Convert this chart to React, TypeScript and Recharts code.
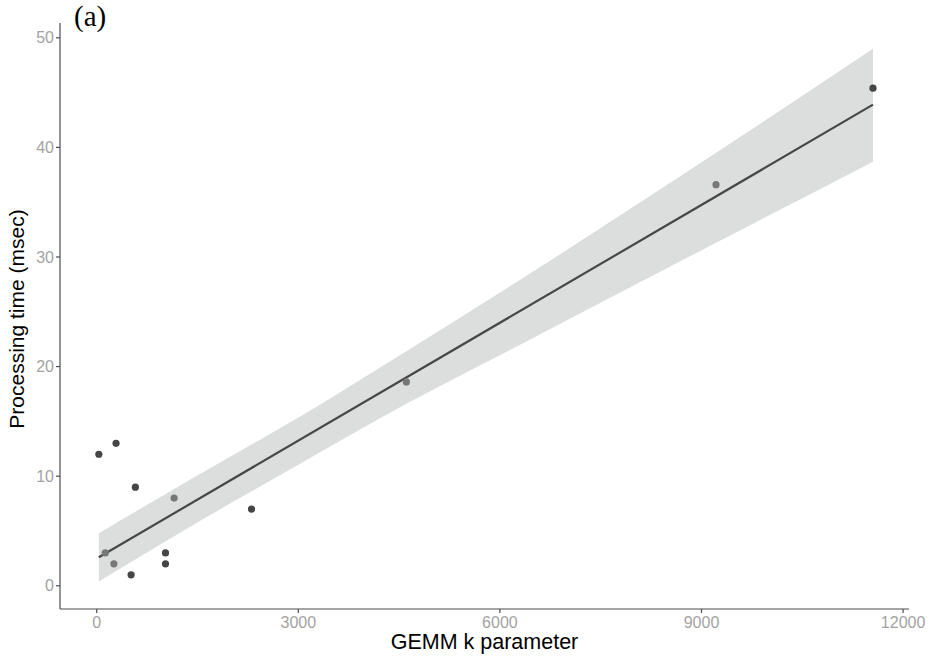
import React from 'react';
import { ComposedChart, Area, Line, Scatter, XAxis, YAxis } from 'recharts';

// observations (GEMM k, msec)
const darkX = [32, 288, 576, 2304, 512, 1024, 1024, 11552];
const darkY = [12, 13, 9, 7, 1, 3, 2, 45.4];
const lightX = [128, 256, 1152, 4608, 9216];
const lightY = [3, 2, 8, 18.6, 36.6];

// fitted line and its confidence band
const fitX = [32, 11552];
const fitY = [2.6, 43.9];
const bandX = [32, 1536, 3072, 4608, 6144, 9216, 11552];
const bandLow = [0.4, 5.9, 11.3, 16.6, 21.5, 31.3, 38.7];
const bandHigh = [4.8, 10.2, 15.6, 21.4, 27.3, 39.5, 49.0];

const xTicks = [0, 3000, 6000, 9000, 12000];
const yTicks = [0, 10, 20, 30, 40, 50];

const darkPts = darkX.map((x, i) => ({ x, y: darkY[i] }));
const lightPts = lightX.map((x, i) => ({ x, y: lightY[i] }));
const fitRows = fitX.map((x, i) => ({ x, fit: fitY[i] }));
const bandRows = bandX.map((x, i) => ({ x, band: [bandLow[i], bandHigh[i]] }));

const tickStyle = { fill: '#a3a3a3', fontSize: 16, fontFamily: 'Liberation Sans, Arial, sans-serif' };
const axisColor = '#4d4d4d';

const dot = (fill: string) => (props: any) => (
    <circle cx={props.cx} cy={props.cy} r={3.6} fill={fill} />
);

export default function App() {
    return (
        <div style={{ position: 'absolute', left: 0, top: 0, width: 936, height: 659, background: '#fff' }}>
            <div
                style={{
                    position: 'absolute',
                    left: 74,
                    top: 0,
                    lineHeight: '32px',
                    fontFamily: 'Liberation Serif, Times New Roman, serif',
                    fontSize: 29,
                    color: '#000',
                }}
            >
                (a)
            </div>
            <ComposedChart width={936} height={659} margin={{ top: 23, right: 27, bottom: 0, left: 0 }}>
                <XAxis
                    dataKey="x"
                    type="number"
                    domain={[-546, 12088]}
                    ticks={xTicks}
                    allowDataOverflow
                    height={50}
                    tick={tickStyle}
                    tickSize={4}
                    tickMargin={4}
                    stroke={axisColor}
                    strokeWidth={1.2}
                    label={({ viewBox }: any) => (
                        <text
                            x={viewBox.x + viewBox.width / 2}
                            y={viewBox.y + 40}
                            textAnchor="middle"
                            fontSize={21.5}
                            fontFamily="Liberation Sans, Arial, sans-serif"
                            fill="#000"
                        >
                            GEMM k parameter
                        </text>
                    )}
                />
                <YAxis
                    type="number"
                    domain={[-2.12, 51.35]}
                    ticks={yTicks}
                    allowDataOverflow
                    width={60}
                    tick={tickStyle}
                    tickSize={4}
                    tickMargin={2}
                    stroke={axisColor}
                    strokeWidth={1.2}
                    label={({ viewBox }: any) => {
                        const cx = 24;
                        const cy = viewBox.y + viewBox.height / 2 + 3;
                        return (
                            <text
                                x={cx}
                                y={cy}
                                transform={`rotate(-90 ${cx} ${cy})`}
                                textAnchor="middle"
                                fontSize={21}
                                fontFamily="Liberation Sans, Arial, sans-serif"
                                fill="#000"
                            >
                                Processing time (msec)
                            </text>
                        );
                    }}
                />
                <Area
                    data={bandRows}
                    dataKey="band"
                    type="monotone"
                    stroke="none"
                    fill="#dcdddd"
                    fillOpacity={1}
                    isAnimationActive={false}
                />
                <Line
                    data={fitRows}
                    dataKey="fit"
                    type="linear"
                    stroke="#474747"
                    strokeWidth={2.2}
                    dot={false}
                    activeDot={false}
                    isAnimationActive={false}
                />
                <Scatter data={lightPts} dataKey="y" shape={dot('#777777')} isAnimationActive={false} />
                <Scatter data={darkPts} dataKey="y" shape={dot('#454545')} isAnimationActive={false} />
            </ComposedChart>
        </div>
    );
}
